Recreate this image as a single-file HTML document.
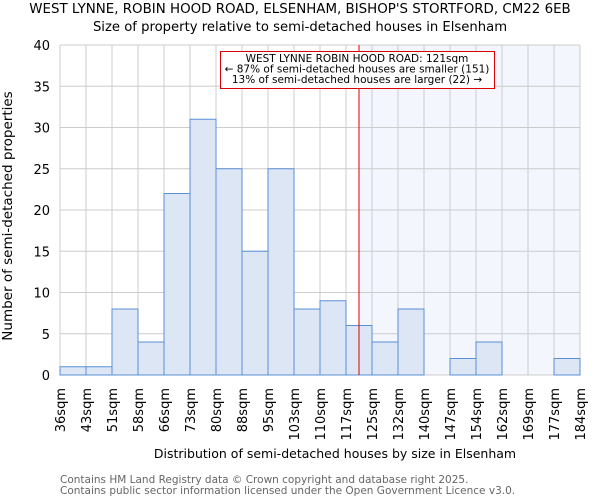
<!DOCTYPE html>
<html><head><meta charset="utf-8"><style>body{margin:0;background:#fff}svg{display:block;font-family:"DejaVu Sans","Liberation Sans",sans-serif}</style></head>
<body>
<svg id="chart" width="600" height="500">
<text x="300" y="13" text-anchor="middle" font-size="13.4" fill="#000">WEST LYNNE, ROBIN HOOD ROAD, ELSENHAM, BISHOP'S STORTFORD, CM22 6EB</text>
<text x="300" y="31" text-anchor="middle" font-size="13.2" fill="#000">Size of property relative to semi-detached houses in Elsenham</text>
<g id="plot"></g>
<text x="335" y="458" text-anchor="middle" font-size="12.5">Distribution of semi-detached houses by size in Elsenham</text>
<text transform="translate(12,216) rotate(-90)" text-anchor="middle" font-size="13.5">Number of semi-detached properties</text>
<text x="60" y="483" font-size="10.5" fill="#666">Contains HM Land Registry data © Crown copyright and database right 2025.</text>
<text x="60" y="494" font-size="10.5" fill="#666">Contains public sector information licensed under the Open Government Licence v3.0.</text>
</svg>
<script>
const categories=["36sqm","43sqm","51sqm","58sqm","66sqm","73sqm","80sqm","88sqm","95sqm","103sqm","110sqm","117sqm","125sqm","132sqm","140sqm","147sqm","154sqm","162sqm","169sqm","177sqm","184sqm"];
const counts=[1,1,8,4,22,31,25,15,25,8,9,6,4,8,0,2,4,0,0,2];
const yTicks=[0,5,10,15,20,25,30,35,40];
const markerIndex=11.5;
const NS="http://www.w3.org/2000/svg";
const g=document.getElementById('plot');
const x0=60,x1=580,y0=375,y1=45,yMax=40;
const bw=(x1-x0)/counts.length;
const xs=i=>x0+i*bw;
const ys=v=>y0-(v/yMax)*(y0-y1);
function mk(t,a){const e=document.createElementNS(NS,t);for(const k in a)e.setAttribute(k,a[k]);g.appendChild(e);return e;}
const mx=xs(markerIndex);
let e=mk('rect',{x:mx,y:y1,width:x1-mx,height:y0-y1,fill:'#f3f6fc'});


for(let i=0;i<=counts.length;i++){e=mk('line',{x1:xs(i),x2:xs(i),y1:y1,y2:y0,stroke:'#ccc','stroke-width':1});

}
yTicks.forEach(t=>{e=mk('line',{x1:x0,x2:x1,y1:ys(t),y2:ys(t),stroke:'#ccc','stroke-width':1});


e=mk('text',{x:x0-10,y:ys(t)+5,'text-anchor':'end','font-size':13});e.textContent=t;

});
counts.forEach((c,i)=>{if(c<=0)return;e=mk('rect',{x:xs(i),y:ys(c),width:bw,height:y0-ys(c),fill:'#dce6f5',stroke:'#5b8fd6','stroke-width':1});

});
categories.forEach((c,i)=>{e=mk('text',{transform:`translate(${xs(i)+5},388) rotate(-90)`,'text-anchor':'end','font-size':13});e.textContent=c;

});
e=mk('line',{x1:mx,x2:mx,y1:y1,y2:y0,stroke:'#d00','stroke-width':1});


e=mk('rect',{x:220.5,y:51.5,width:274,height:37,fill:'#fff',stroke:'#d00','stroke-width':1});


["WEST LYNNE ROBIN HOOD ROAD: 121sqm","← 87% of semi-detached houses are smaller (151)","13% of semi-detached houses are larger (22) →"].forEach((s,k)=>{e=mk('text',{x:357,y:62+k*10.5,'text-anchor':'middle','font-size':10.5});e.textContent=s;

});
</script>
</body></html>
